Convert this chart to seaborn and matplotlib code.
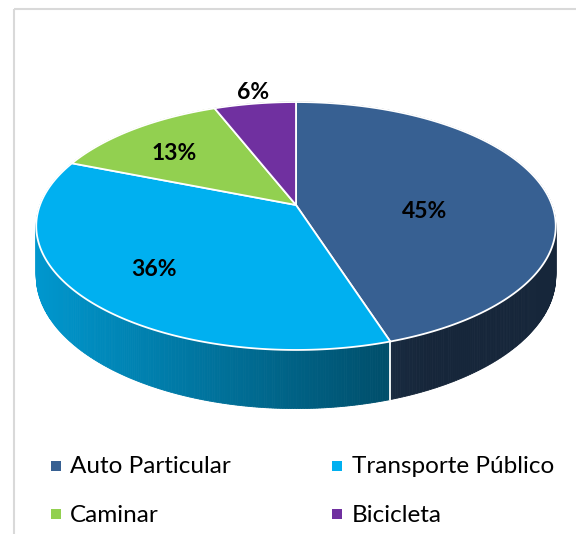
import numpy as np
import matplotlib
matplotlib.use("Agg")
import matplotlib.pyplot as plt
import seaborn as sns
from matplotlib.patches import Polygon, Rectangle
from matplotlib.colors import to_rgb

# Modal split data
categories = ["Auto Particular", "Transporte Público", "Caminar", "Bicicleta"]
shares = [45, 36, 13, 6]
palette = ["#376092", "#00B0F0", "#92D050", "#7030A0"]

# Label placement on the disc (radius fraction, turn from the wedge middle, degrees)
label_radius = [0.50, 0.70, 0.70, 1.15]
label_turn = [13.7, 0.0, -2.3, 0.8]

sns.set_theme(style="white")
plt.rcParams["font.family"] = ["Lato", "DejaVu Sans"]

W, H = 576, 534
fig = plt.figure(figsize=(W / 100, H / 100), dpi=100)
ax = fig.add_axes([0, 0, 1, 1])
ax.set_xlim(0, W)
ax.set_ylim(H, 0)
ax.axis("off")

# chart frame (only the top-left corner falls inside the canvas)
ax.add_patch(Rectangle((13.5, 9), 700, 700, fill=False, edgecolor="#D9D9D9", lw=1.5))

# perspective view of a tilted disc
CX, CY = 296.0, 205.0
RX, RY = 256.0, 120.4
K = 0.1694
DEPTH = 48.7


def project(theta_deg, r=1.0, drop=0.0):
    t = np.radians(theta_deg)
    u = r * np.sin(t)
    v = -r * np.cos(t)
    s = 1.0 / (1.0 - K * v)
    return CX + RX * u * s, CY + RY * v * s + drop * s


def side_light(x):
    f = 0.86 - 0.42 * (x - 36.0) / (390.0 - 36.0)
    return float(np.clip(f, 0.40, 1.0))


total = float(sum(shares))
bounds = np.concatenate([[0.0], np.cumsum(shares) / total * 360.0])

# side wall, drawn back to front
quads = []
for i, col in enumerate(palette):
    base = np.array(to_rgb(col))
    a0, a1 = bounds[i], bounds[i + 1]
    n = max(2, int(np.ceil((a1 - a0) / 0.5)))
    angs = np.linspace(a0, a1, n + 1)
    for t0, t1 in zip(angs[:-1], angs[1:]):
        p0 = project(t0)
        p1 = project(t1)
        q1 = project(t1, drop=DEPTH)
        q0 = project(t0, drop=DEPTH)
        tm = 0.5 * (t0 + t1)
        vm = -np.cos(np.radians(tm))
        xm = project(tm)[0]
        c = base * side_light(xm)
        quads.append((vm, [p0, p1, q1, q0], c))
quads.sort(key=lambda q: q[0])
for _, pts, c in quads:
    ax.add_patch(Polygon(pts, closed=True, facecolor=c, edgecolor=c, lw=0.6))

# white seams on the visible part of the wall
for b in bounds[:-1]:
    if -np.cos(np.radians(b)) > K:
        top = project(b)
        bot = project(b, drop=DEPTH)
        ax.plot([top[0], bot[0]], [top[1], bot[1]], color="white", lw=1.3,
                solid_capstyle="butt")

# top faces
for i, col in enumerate(palette):
    a0, a1 = bounds[i], bounds[i + 1]
    angs = np.linspace(a0, a1, max(3, int((a1 - a0) * 2)))
    pts = [project(0, r=0.0)] + [project(a) for a in angs]
    ax.add_patch(Polygon(pts, closed=True, facecolor=col, edgecolor="white",
                         lw=1.3, joinstyle="round"))

# percentage labels
for i, val in enumerate(shares):
    mid = 0.5 * (bounds[i] + bounds[i + 1]) + label_turn[i]
    x, y = project(mid, r=label_radius[i])
    ax.text(x, y + 8.0, f"{val}%", ha="center", va="baseline",
            fontsize=16.5, fontweight="bold", color="black")

# legend, two columns
leg_x = [55.5, 337.0]
leg_base = [473.3, 521.7]
for i, (name, col) in enumerate(zip(categories, palette)):
    cx = leg_x[i % 2]
    by = leg_base[i // 2]
    ax.scatter([cx], [by - 7.5], marker="s", s=42, color=col, linewidths=0)
    ax.text(cx + 14.5, by, name, ha="left", va="baseline", fontsize=17.5,
            color="black")

fig.savefig("out.png", dpi=100)
